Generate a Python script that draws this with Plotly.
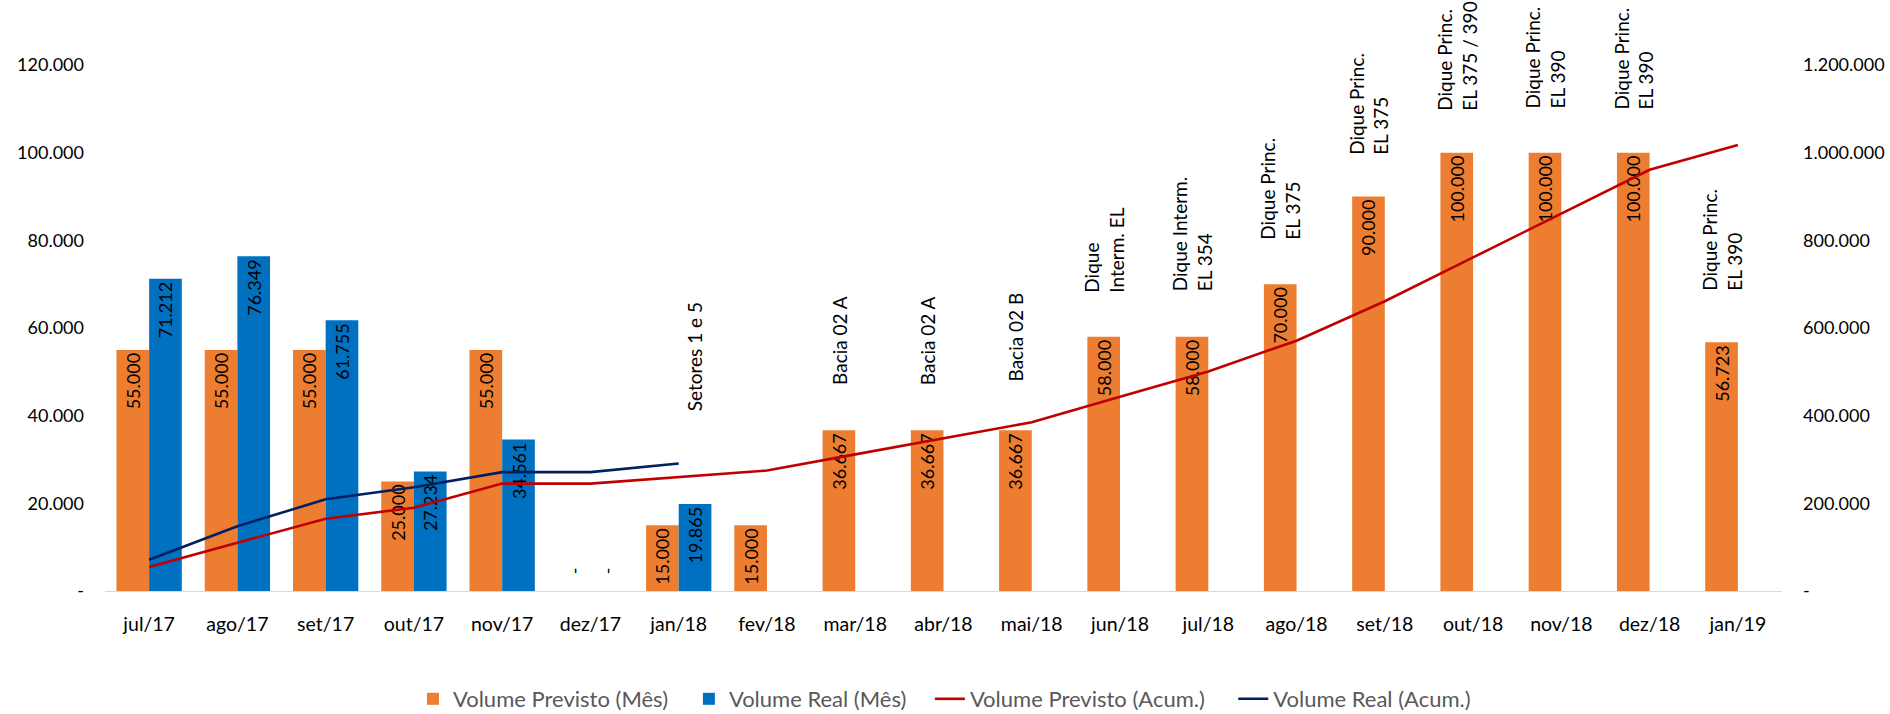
import plotly.graph_objects as go

months = ["jul/17", "ago/17", "set/17", "out/17", "nov/17", "dez/17", "jan/18",
          "fev/18", "mar/18", "abr/18", "mai/18", "jun/18", "jul/18", "ago/18",
          "set/18", "out/18", "nov/18", "dez/18", "jan/19"]

previsto_mes = [55000, 55000, 55000, 25000, 55000, 0, 15000, 15000, 36667, 36667,
                36667, 58000, 58000, 70000, 90000, 100000, 100000, 100000, 56723]

real_mes = [71212, 76349, 61755, 27234, 34561, 0, 19865, None, None, None, None,
            None, None, None, None, None, None, None, None]

previsto_acum = [55000, 110000, 165000, 190000, 245000, 245000, 260000, 275000,
                 311667, 348334, 385001, 443001, 501001, 571001, 661001, 761001,
                 861001, 961001, 1017724]

real_acum = [71212, 147561, 209316, 236550, 271111, 271111, 290976, None, None,
             None, None, None, None, None, None, None, None, None, None]

stage_months = ["jan/18", "mar/18", "abr/18", "mai/18", "jun/18", "jul/18",
                "ago/18", "set/18", "out/18", "nov/18", "dez/18", "jan/19"]
stage_texts = ["Setores 1 e 5", "Bacia 02 A", "Bacia 02 A", "Bacia 02 B",
               "Dique<br>Interm. EL", "Dique Interm.<br>EL 354",
               "Dique Princ.<br>EL 375", "Dique Princ.<br>EL 375",
               "Dique Princ.<br>EL 375 / 390", "Dique Princ.<br>EL 390",
               "Dique Princ.<br>EL 390", "Dique Princ.<br>EL 390"]
stage_series = ["real", "prev", "prev", "prev", "prev", "prev", "prev", "prev",
                "prev", "prev", "prev", "prev"]
# label base heights (left axis units)
stage_base = [40600, 46500, 46500, 47400, 67500, 68000, 79600, 99000, 109000,
              109700, 109300, 68000]

left_ticks = [0, 20000, 40000, 60000, 80000, 100000, 120000]
left_ticktext = ["-", "20.000", "40.000", "60.000", "80.000", "100.000", "120.000"]
right_ticks = [0, 200000, 400000, 600000, 800000, 1000000, 1200000]
right_ticktext = ["-", "200.000", "400.000", "600.000", "800.000", "1.000.000", "1.200.000"]

FONT = "Lato"
ORANGE = "#ED7D31"
BLUE = "#0070C0"
RED = "#C00000"
NAVY = "#002060"


def fmt(v):
    if v is None:
        return None
    if v == 0:
        return "\u00a0\u00a0\u00a0-"
    return f"{v:,}".replace(",", ".")


def pos(v):
    return "outside" if (v == 0) else "inside"


fig = go.Figure()

fig.add_trace(go.Bar(
    x=months, y=previsto_mes, name="Volume Previsto (Mês)", legend="legend",
    marker=dict(color=ORANGE, line=dict(width=0)),
    text=[fmt(v) for v in previsto_mes],
    textposition=[pos(v) for v in previsto_mes],
    insidetextanchor="end", textangle=-90, constraintext="none",
    textfont=dict(family=FONT, size=18, color="black"),
    cliponaxis=False,
))
fig.add_trace(go.Bar(
    x=months, y=real_mes, name="Volume Real (Mês)", legend="legend2",
    marker=dict(color=BLUE, line=dict(width=0)),
    text=[fmt(v) for v in real_mes],
    textposition=[pos(v) for v in real_mes],
    insidetextanchor="end", textangle=-90, constraintext="none",
    textfont=dict(family=FONT, size=18, color="black"),
    cliponaxis=False,
))
fig.add_trace(go.Scatter(
    x=months, y=previsto_acum, name="Volume Previsto (Acum.)", yaxis="y2",
    legend="legend3", mode="lines", line=dict(color=RED, width=2.6),
))
fig.add_trace(go.Scatter(
    x=months, y=real_acum, name="Volume Real (Acum.)", yaxis="y2",
    legend="legend4", mode="lines", line=dict(color=NAVY, width=2.6),
))

annotations = []
for m, t, s, b in zip(stage_months, stage_texts, stage_series, stage_base):
    annotations.append(dict(
        x=m, y=b, xref="x", yref="y", text=t, showarrow=False,
        textangle=-90, xanchor="center", yanchor="bottom", align="left",
        xshift=16 if s == "real" else -16,
        font=dict(family=FONT, size=19, color="black"),
    ))


def legend_at(xc):
    return dict(orientation="h", xref="container", x=xc, xanchor="left",
                yref="container", y=0.021, yanchor="middle",
                font=dict(family=FONT, size=22, color="#595959"),
                itemwidth=30, bgcolor="rgba(0,0,0,0)")


fig.update_layout(
    width=1890, height=714,
    margin=dict(l=105, r=108, t=65, b=123, autoexpand=False),
    paper_bgcolor="white", plot_bgcolor="white",
    barmode="group", bargap=0.26, bargroupgap=0,
    font=dict(family=FONT, size=18, color="black"),
    showlegend=True,
    legend=legend_at(0.2185),
    legend2=legend_at(0.3645),
    legend3=legend_at(0.4920),
    legend4=legend_at(0.6525),
    xaxis=dict(type="category", showline=True, linecolor="#D9D9D9", linewidth=1,
               ticks="", showgrid=False, zeroline=False,
               tickfont=dict(family=FONT, size=19.5, color="black"),
               ticklabelstandoff=16),
    yaxis=dict(range=[0, 120000], tickvals=left_ticks, ticktext=left_ticktext,
               showgrid=False, zeroline=False, showline=False, ticks="",
               tickfont=dict(family=FONT, size=18, color="black"),
               ticklabelstandoff=20),
    yaxis2=dict(range=[0, 1200000], tickvals=right_ticks, ticktext=right_ticktext,
                overlaying="y", side="right", showgrid=False, zeroline=False,
                showline=False, ticks="",
                tickfont=dict(family=FONT, size=18, color="black"),
                ticklabelstandoff=20),
    annotations=annotations,
)

fig.write_html("out.html", config={"displayModeBar": False},
               post_script="document.body.style.margin='0px';")
